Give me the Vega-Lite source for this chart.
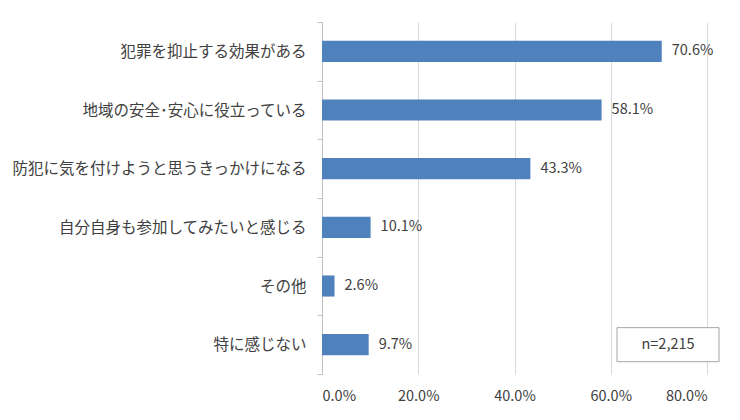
{
  "$schema": "https://vega.github.io/schema/vega-lite/v6.json",
  "width": 385,
  "height": 352,
  "autosize": {"type": "none"},
  "padding": {"left": 322, "top": 22, "right": 33, "bottom": 46},
  "background": "white",
  "config": {
    "view": {"stroke": null},
    "font": "Noto Sans CJK JP",
    "axis": {"labelFont": "Noto Sans CJK JP", "labelColor": "#404040"}
  },
  "layer": [
    {
      "data": {
        "values": [
          {"item": "犯罪を抑止する効果がある", "pct": 0.706},
          {"item": "地域の安全･安心に役立っている", "pct": 0.581},
          {"item": "防犯に気を付けようと思うきっかけになる", "pct": 0.433},
          {"item": "自分自身も参加してみたいと感じる", "pct": 0.101},
          {"item": "その他", "pct": 0.026},
          {"item": "特に感じない", "pct": 0.097}
        ]
      },
      "encoding": {
        "y": {
          "field": "item",
          "type": "nominal",
          "sort": null,
          "scale": {
            "domain": ["犯罪を抑止する効果がある", "地域の安全･安心に役立っている", "防犯に気を付けようと思うきっかけになる", "自分自身も参加してみたいと感じる", "その他", "特に感じない"],
            "paddingInner": 0,
            "paddingOuter": 0
          },
          "axis": {
            "title": null,
            "tickBand": "extent",
            "domainColor": "#bfbfbf",
            "tickColor": "#bfbfbf",
            "tickSize": 5,
            "labelPadding": 11,
            "labelFontSize": 15.5,
            "labelLimit": 400
          }
        },
        "x": {
          "field": "pct",
          "type": "quantitative",
          "scale": {"domain": [0, 0.8]},
          "axis": {
            "title": null,
            "format": ".1%",
            "values": [0, 0.2, 0.4, 0.6, 0.8],
            "domain": false,
            "ticks": false,
            "gridColor": "#d9d9d9",
            "labelPadding": 15,
            "labelFontSize": 14.5
          }
        }
      },
      "layer": [
        {"mark": {"type": "bar", "color": "#4f81bd", "height": {"band": 0.36}}},
        {
          "mark": {"type": "text", "align": "left", "dx": 10, "fontSize": 14.5, "color": "#404040"},
          "encoding": {"text": {"field": "pct", "type": "quantitative", "format": ".1%"}}
        }
      ]
    },
    {
      "data": {"values": [{"note": "n=2,215", "row": "特に感じない"}]},
      "encoding": {
        "y": {"field": "row", "type": "nominal", "sort": null}
      },
      "layer": [
        {
          "mark": {"type": "bar", "fill": "white", "stroke": "#a6a6a6", "strokeWidth": 1, "height": {"band": 0.58}},
          "encoding": {
            "x": {"datum": 0.613, "type": "quantitative"},
            "x2": {"datum": 0.825}
          }
        },
        {
          "mark": {"type": "text", "fontSize": 14.5, "color": "#404040"},
          "encoding": {
            "x": {"datum": 0.719, "type": "quantitative"},
            "text": {"field": "note"}
          }
        }
      ]
    }
  ]
}
